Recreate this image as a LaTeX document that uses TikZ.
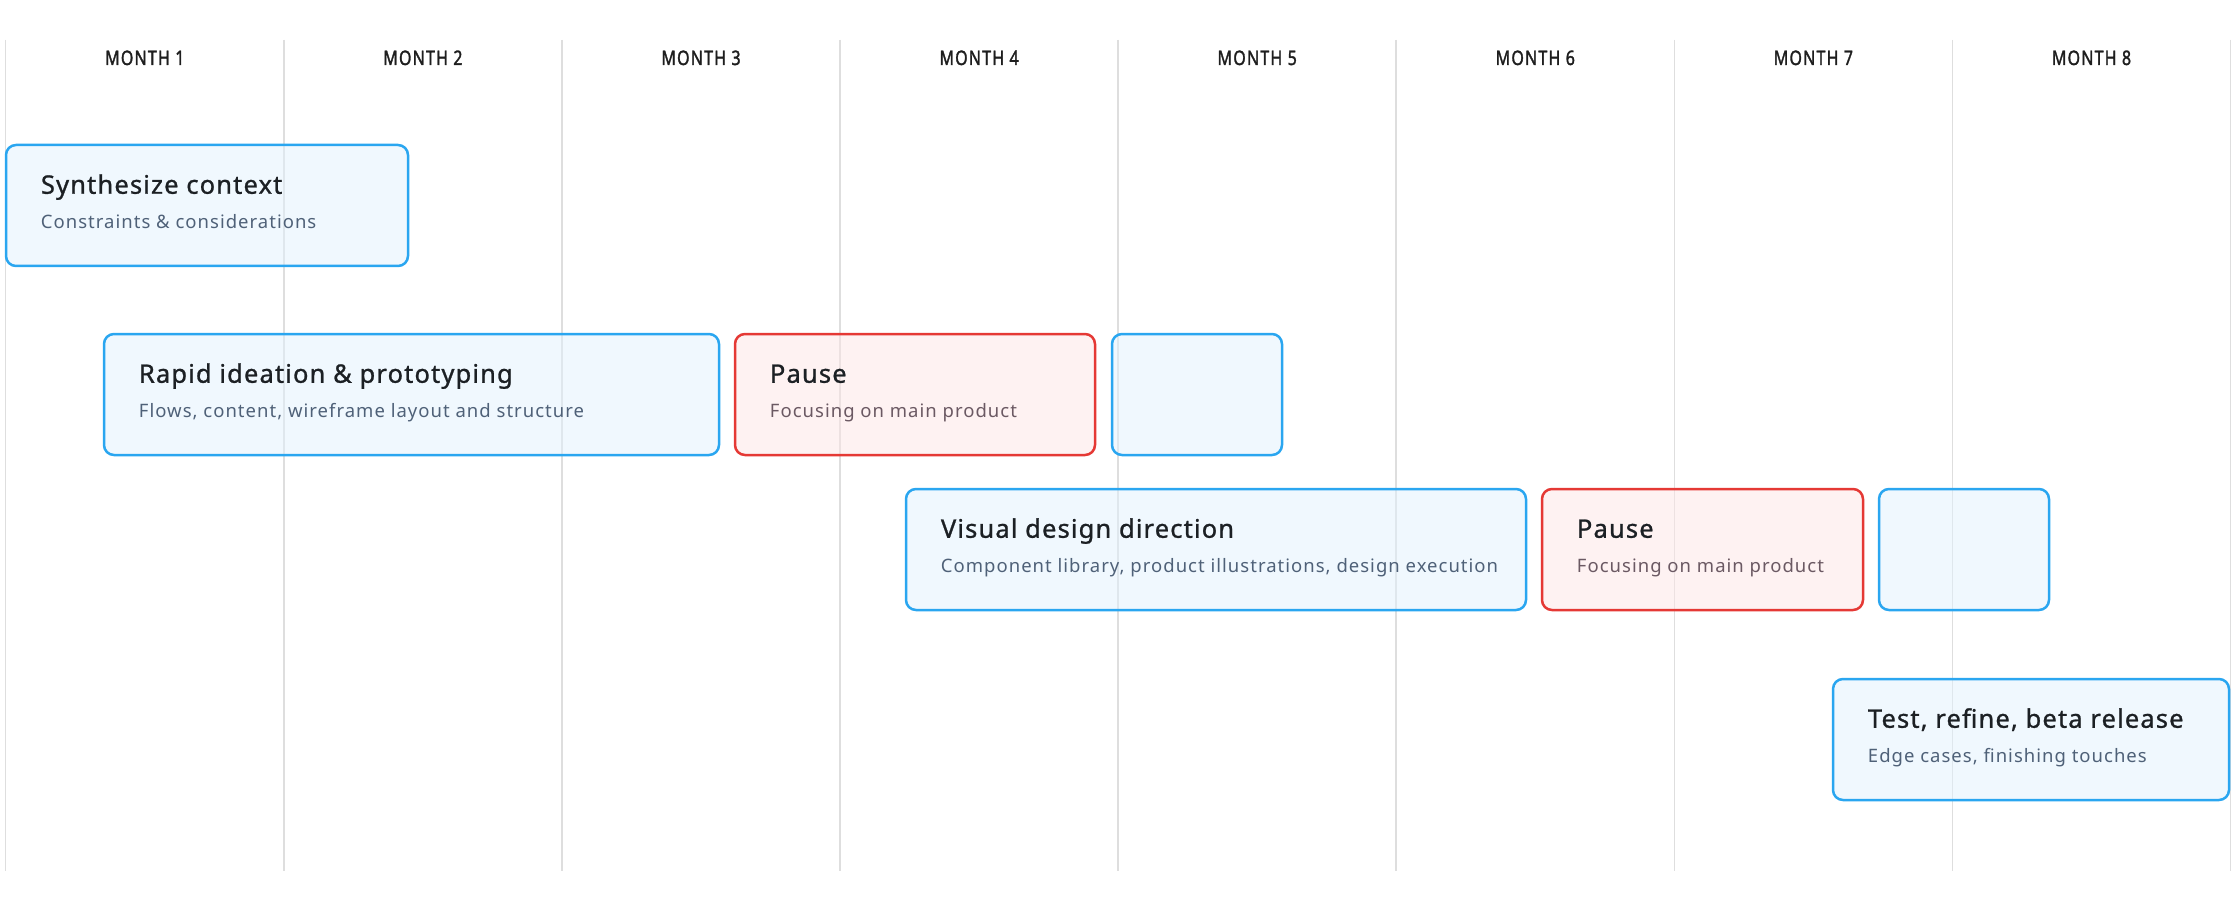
\documentclass[tikz,border=0pt]{standalone}
\usepackage{fontspec}
\setmainfont{Noto Sans}
\newfontfamily\ttlfont[LetterSpace=4.5,FakeBold=1.0]{Noto Sans}
\newfontfamily\subfont[LetterSpace=5.5]{Noto Sans}
\newfontfamily\monfont[LetterSpace=6,FakeStretch=0.8,FakeBold=1.6]{Noto Sans}
\usetikzlibrary{positioning,calc}
\definecolor{Tb}{HTML}{2AA6F0}
\definecolor{Tf}{HTML}{E1F1FD}
\definecolor{Pb}{HTML}{E53935}
\definecolor{Pf}{HTML}{FDE5E5}
\definecolor{Tt}{HTML}{1C2024}
\definecolor{Ts}{HTML}{4F6178}
\definecolor{Ps}{HTML}{6B5963}
\definecolor{rule}{HTML}{DEDEDE}
\definecolor{Mt}{HTML}{1E1E1E}
\tikzset{
  task/.style={draw=Tb, fill=Tf, fill opacity=0.5, draw opacity=1, line width=2.5pt, rounded corners=10pt, inner sep=0pt},
  pause/.style={task, draw=Pb, fill=Pf},
  ttl/.style={font=\ttlfont\fontsize{25.5}{30}\selectfont, text=Tt, inner sep=0pt, anchor=base west},
  sub/.style={font=\subfont\fontsize{18.5}{22}\selectfont, inner sep=0pt, anchor=base west},
  tasksub/.style={text=Ts},
  pausesub/.style={text=Ps},
  monthline/.style={rule, line width=1.5pt},
  mon/.style={font=\monfont\fontsize{20}{24}\selectfont, text=Mt, inner sep=0pt, anchor=base},
}
\newcommand{\colx}[1]{5.7+278.1*#1}
\newcommand{\taskbar}[7]{% name, style, x0, x1, top, title, subtitle
  \node[#2, minimum width={#4-#3}, minimum height=121] (#1) at ({(#3+#4)/2}, {#5+60.5}) {};
  \node[ttl] (#1-t) at ([shift={(36pt,-50pt)}]#1.north west) {#6};
  \node[sub, #2sub] (#1-s) at ([shift={(36pt,-85pt)}]#1.north west) {#7};}

\begin{document}
\begin{tikzpicture}[x=1pt, y=-1pt]
  \useasboundingbox (0,0) rectangle (2236,912);
  % month columns
  \foreach \i in {0,...,8} \draw[monthline] ({\colx{\i}}, 40) -- ({\colx{\i}}, 871);
  \foreach \i in {1,...,8} \node[mon] (m\i) at ({\colx{\i}-139}, 65) {MONTH \i};
  % tasks
  \taskbar{syn}{task}{6}{408}{145}{Synthesize context}{Constraints \& considerations}
  \taskbar{rap}{task}{104}{719}{334}{Rapid ideation \& prototyping}{Flows, content, wireframe layout and structure}
  \taskbar{pa}{pause}{735}{1095}{334}{Pause}{Focusing on main product}
  \node[task, minimum width=170, minimum height=121] (rest1) at (1197, 394.5) {};
  \taskbar{vis}{task}{906}{1526}{489}{Visual design direction}{Component library, product illustrations, design execution}
  \taskbar{pb}{pause}{1542}{1863}{489}{Pause}{Focusing on main product}
  \node[task, minimum width=170, minimum height=121] (rest2) at (1964, 549.5) {};
  \taskbar{tst}{task}{1833}{2229}{679}{Test, refine, beta release}{Edge cases, finishing touches}
\end{tikzpicture}
\end{document}
